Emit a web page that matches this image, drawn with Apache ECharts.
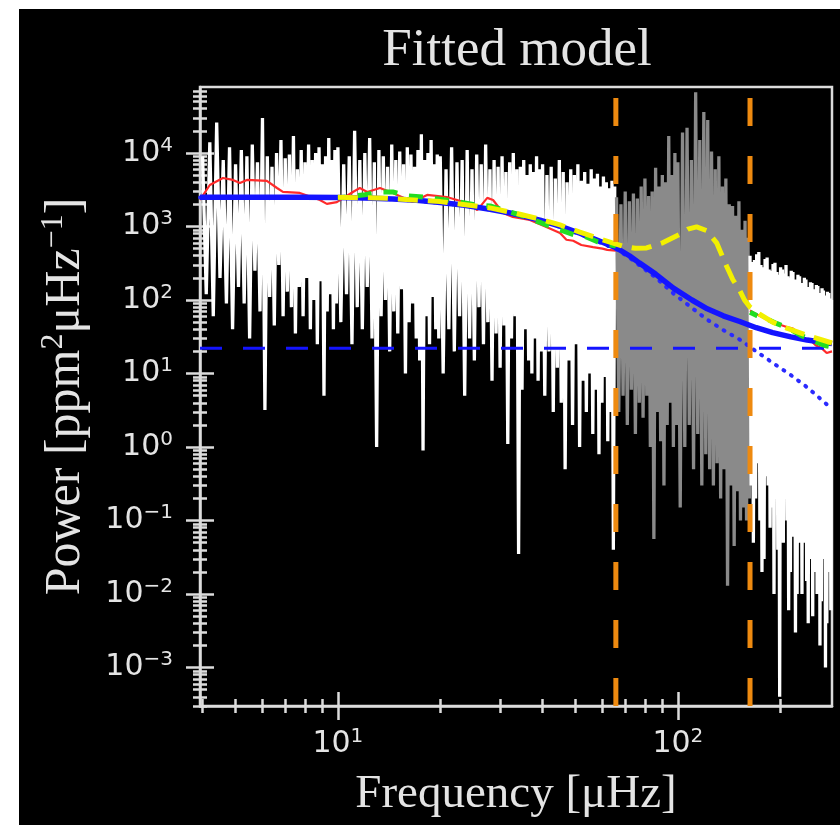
<!DOCTYPE html>
<html>
<head>
<meta charset="utf-8">
<script src="https://cdn.jsdelivr.net/npm/echarts@6/dist/echarts.min.js"></script>
<style>
  html, body { margin: 0; padding: 0; background: #ffffff; }
  #chart { position: absolute; left: 19px; top: 9px; width: 821px; height: 816px; background: #000000; }
</style>
</head>
<body>
<div id="chart"></div>
<script>
// Frequency range of the plot (µHz) and power range (ppm^2/µHz)
const freqRange = [3.93, 284];
const powerRange = [3.0e-4, 7.9e4];

// Labelled decades on each axis
const freqMajorTicks = [10, 100];
const powerMajorTicks = [1e-3, 1e-2, 1e-1, 1, 10, 100, 1e3, 1e4];
// Minor ticks: mantissas 2..9 of each decade
const minorMantissas = [2, 3, 4, 5, 6, 7, 8, 9];
const freqDecades = [0, 1, 2];
const powerDecades = [-4, -3, -2, -1, 0, 1, 2, 3, 4];

// Oscillation window edges (µHz)
const windowEdges = [65.7, 163];

// Power spectrum [frequency, power] below the oscillation window
const spectrumBelow = [
  [4.0, 9000], [4.1, 120], [4.2, 14000], [4.3, 60], [4.4, 26000], [4.5, 200],
  [4.6, 8000], [4.7, 90], [4.8, 12000], [4.9, 40], [5.0, 7000], [5.1, 150],
  [5.2, 11000], [5.3, 90], [5.4, 9000], [5.5, 30], [5.6, 13000], [5.7, 250],
  [5.8, 7500], [5.9, 70], [6.0, 30000], [6.1, 3.2], [6.2, 9000], [6.3, 110],
  [6.4, 6500], [6.5, 45], [6.6, 10000], [6.7, 300], [6.8, 15000], [6.9, 60],
  [7.0, 8500], [7.1, 130], [7.2, 9500], [7.3, 80], [7.4, 17000], [7.5, 35],
  [7.6, 6000], [7.7, 150], [7.8, 11000], [7.9, 60], [8.0, 7500], [8.1, 200],
  [8.2, 13000], [8.3, 40], [8.4, 8000], [8.5, 100], [8.6, 10000], [8.7, 25],
  [8.8, 12000], [8.9, 180], [9.0, 7000], [9.1, 5], [9.2, 9000], [9.3, 70],
  [9.4, 16000], [9.5, 120], [9.6, 8000], [9.7, 40], [9.8, 11000], [9.9, 90],
  [10.0, 12000], [10.2, 50], [10.4, 7000], [10.6, 120], [10.8, 9000], [11.0, 25],
  [11.2, 20000], [11.4, 80], [11.6, 8000], [11.8, 40], [12.0, 10000], [12.2, 150],
  [12.4, 16000], [12.6, 30], [12.8, 7500], [13.0, 1.0], [13.2, 11000], [13.4, 60],
  [13.6, 9000], [13.8, 100], [14.0, 6500], [14.2, 20], [14.4, 13000], [14.6, 70],
  [14.8, 8000], [15.0, 35], [15.2, 10500], [15.4, 140], [15.6, 7000], [15.8, 10],
  [16.0, 12000], [16.2, 50], [16.4, 9500], [16.6, 90], [16.8, 6500], [17.0, 30],
  [17.2, 11000], [17.4, 15], [17.6, 18000], [17.8, 0.9], [18.0, 8000], [18.2, 60],
  [18.4, 10000], [18.6, 25], [18.8, 15000], [19.0, 110], [19.2, 7000], [19.4, 40],
  [19.6, 9500], [19.8, 30],
  [20.0, 9000], [20.4, 10], [20.8, 6000], [21.2, 40], [21.6, 12000], [22.0, 20],
  [22.4, 7500], [22.8, 60], [23.2, 8000], [23.6, 5], [24.0, 11000], [24.4, 30],
  [24.8, 6000], [25.2, 15], [25.6, 9500], [26.0, 80], [26.4, 7000], [26.8, 25],
  [27.2, 13000], [27.6, 50], [28.0, 6000], [28.4, 8], [28.8, 8000], [29.2, 35],
  [29.6, 6500], [30.0, 12], [30.4, 9000], [30.8, 45], [31.2, 5500], [31.6, 1.1],
  [32.0, 7500], [32.4, 30], [32.8, 10000], [33.2, 60], [33.6, 6000], [34.0, 0.035],
  [34.4, 6500], [34.8, 6], [35.2, 8000], [35.6, 40], [36.0, 5000], [36.4, 15],
  [36.8, 7000], [37.2, 10], [37.6, 5500], [38.0, 30], [38.4, 9000], [38.8, 8],
  [39.2, 6000], [39.6, 20],
  [40.0, 7000], [40.6, 5], [41.2, 5000], [41.8, 20], [42.4, 6500], [43.0, 3],
  [43.6, 4500], [44.2, 12], [44.8, 8000], [45.4, 4], [46.0, 5500], [46.6, 0.5],
  [47.2, 4000], [47.8, 15], [48.4, 6000], [49.0, 2], [49.6, 5000], [50.2, 25],
  [50.8, 7000], [51.4, 1], [52.0, 4200], [52.6, 8], [53.2, 5500], [53.8, 3],
  [54.4, 3800], [55.0, 10], [55.6, 6000], [56.2, 1.5], [56.8, 4500], [57.4, 6],
  [58.0, 5200], [58.6, 0.8], [59.2, 3500], [59.8, 4], [60.4, 4800], [61.0, 9],
  [61.6, 4000], [62.2, 1.2], [62.8, 3300], [63.4, 3], [64.0, 4200], [64.6, 0.04],
  [65.2, 3500]
];

// Power spectrum inside the oscillation window
const spectrumWindow = [
  [66, 2500], [67, 3], [68, 2000], [69, 5], [70, 3000], [71, 2], [72, 2200],
  [73, 6], [74, 2800], [75, 1.5], [76, 2400], [77, 4], [78, 3500], [79, 2.5],
  [80, 4500], [81, 5], [82, 2600], [83, 1], [84, 3000], [85, 0.056], [86, 6300],
  [87, 3], [88, 3500], [89, 1.2], [90, 5000], [91, 0.3], [92, 4000], [93, 2],
  [94, 17000], [95, 4], [96, 5000], [97, 1], [98, 10000], [99, 2], [100, 7500],
  [101.6, 0.15], [103.2, 19000], [104.8, 1], [106.4, 22000], [108.0, 2],
  [109.6, 8000], [111.2, 0.5], [112.8, 67000], [114.4, 1.5], [116.0, 15000],
  [117.6, 0.3], [119.2, 36000], [120.8, 0.8], [122.4, 28000], [124.0, 0.5],
  [125.6, 10500], [127.2, 0.3], [128.8, 6000], [130.4, 0.6], [132.0, 9000],
  [133.6, 0.2], [135.2, 3500], [136.8, 0.5], [138.4, 4500], [140.0, 0.013],
  [141.6, 2000], [143.2, 0.3], [144.8, 1900], [146.4, 0.045], [148.0, 1400],
  [149.6, 0.25], [151.2, 2200], [152.8, 0.1], [154.4, 900], [156.0, 0.15],
  [157.6, 1200], [159.2, 0.1], [160.8, 700], [162.4, 0.2]
];

// Power spectrum above the oscillation window
const spectrumAbove = [
  [163.0, 400], [164.25, 0.3], [165.5, 330], [166.75, 0.05], [168.0, 350], [169.25, 0.2],
  [170.5, 420], [171.75, 0.6], [173.0, 450], [174.25, 0.1], [175.5, 300], [176.75, 0.02],
  [178.0, 280], [179.25, 0.03], [180.5, 360], [181.75, 0.4], [183.0, 380], [184.25, 0.3],
  [185.5, 260], [186.75, 0.08], [188.0, 250], [189.25, 0.15], [190.5, 310], [191.75, 0.01],
  [193.0, 320], [194.25, 0.2], [195.5, 240], [196.75, 0.04], [198.0, 220], [199.25, 0.0004],
  [200.5, 280], [201.75, 0.1], [203.0, 260], [204.25, 0.05], [205.5, 230], [206.75, 0.2],
  [208.0, 300], [209.25, 0.1], [210.5, 210], [211.75, 0.006], [213.0, 200], [214.25, 0.02],
  [215.5, 250], [216.75, 0.1], [218.0, 240], [219.25, 0.06], [220.5, 190], [221.75, 0.003],
  [223.0, 180], [224.25, 0.01], [225.5, 220], [226.75, 0.05], [228.0, 210], [229.25, 0.08],
  [230.5, 170], [231.75, 0.01], [233.0, 160], [234.25, 0.05], [235.5, 200], [236.75, 0.2],
  [238.0, 190], [239.25, 0.015], [240.5, 150], [241.75, 0.004], [243.0, 150], [244.25, 0.03],
  [245.5, 175], [246.75, 0.06], [248.0, 170], [249.25, 0.005], [250.5, 140], [251.75, 0.02],
  [253.0, 140], [254.25, 0.05], [255.5, 160], [256.75, 0.01], [258.0, 155], [259.25, 0.03],
  [260.5, 125], [261.75, 0.002], [263.0, 120], [264.25, 0.008], [265.5, 145], [266.75, 0.03],
  [268.0, 135], [269.25, 0.04], [270.5, 115], [271.75, 0.001], [273.0, 110], [274.25, 0.004],
  [275.5, 130], [276.75, 0.02], [278.0, 125], [279.25, 0.02], [280.5, 105], [281.75, 0.006],
  [283.0, 100]
];

// Smoothed spectrum (red), outside the window
const smoothBelow = [
  [3.93, 2300], [4.20, 3670], [4.59, 4570], [4.91, 4300], [5.15, 3900], [5.40, 4300],
  [6.18, 4170], [6.62, 3340], [6.89, 2950], [7.73, 2860], [8.85, 2290], [9.28, 2030],
  [9.93, 2150], [11.07, 2950], [11.6, 3340], [12.2, 2950], [13.3, 3340], [14.5, 2860],
  [16.6, 2150], [18.3, 2690], [20.9, 2520], [24.0, 2090], [25.7, 1670], [27.5, 2450],
  [28.6, 2290], [30.6, 1530], [32.7, 1350], [36.7, 1230], [41.2, 980], [45.0, 815],
  [47.0, 660], [49.2, 640], [52.0, 560], [56.3, 525], [60.0, 500], [62.0, 480], [65.7, 470]
];
const smoothAbove = [
  [163, 72], [168, 66], [175, 60], [183, 54], [195, 48], [209, 43], [218, 41],
  [225, 36], [239, 29], [248, 27], [255, 24], [265, 22], [274, 19], [284, 20]
];

// Binned spectrum (green dashed), outside the window
const binnedBelow = [
  [10, 2450], [12, 2700], [13.3, 2950], [14.5, 2950], [16, 2600], [18, 2500], [20, 2350],
  [22, 2200], [25, 2000], [28, 1900], [31, 1650], [35, 1400], [40, 1100], [45, 900],
  [50, 760], [53, 740], [58, 620], [65.7, 540]
];
const binnedAbove = [
  [163, 68], [170, 62], [180, 57], [195, 48], [210, 42], [230, 33], [250, 28],
  [270, 24], [284, 23]
];

// Background model: granulation component plus white noise (blue)
const modelFreq = [3.93, 6, 8, 10, 12, 14.5, 17, 20, 23.3, 28, 32.7, 39.3, 45, 51.5,
  58, 66, 72, 77, 86, 97, 110, 122, 136, 152, 170, 190, 215, 240, 284];
const backgroundPower = [2500, 2500, 2495, 2480, 2440, 2370, 2270, 2120, 1960, 1720, 1500,
  1220, 1010, 810, 650, 510, 400, 320, 225, 145, 100, 76, 61, 51, 42, 36, 31.5, 28.5, 25.5];
const granulationPower = [2478, 2478, 2473, 2458, 2418, 2348, 2248, 2098, 1938, 1698, 1478,
  1198, 988, 788, 628, 488, 378, 298, 203, 123, 78, 54, 39, 29, 20, 14, 9.5, 6.5, 3.3];
const whiteNoiseLevel = 22;

// Full fitted model including the oscillation hump (yellow dashed)
const fullModel = [
  [10, 2500], [14, 2420], [20, 2180], [28, 1790], [33, 1530], [39.3, 1260], [45, 1050],
  [51.5, 840], [58.9, 680], [68.8, 540], [75, 505], [80.9, 510], [90.2, 600], [101, 780],
  [107, 920], [113.5, 990], [121.5, 880], [130, 600], [139, 290], [145, 190], [152, 135],
  [157, 100], [163, 80], [174, 64], [190, 50], [210, 41], [240, 33], [284, 26]
];

const textColor = '#e4e4e4';
const frameColor = '#dcdcdc';

function decadeLabel(v) {
  const e = Math.round(Math.log10(v));
  const exp = e < 0 ? '\u2212' + (-e) : String(e);
  return '{b|10}{s|' + exp + '}';
}
const tickRich = {
  b: { fontSize: 30, fontFamily: 'DejaVu Sans', color: textColor },
  s: { fontSize: 20, fontFamily: 'DejaVu Sans', color: textColor, verticalAlign: 'top', padding: [0, 0, 15, 0] }
};

function minorTicks(decades, range) {
  const out = [];
  decades.forEach(d => minorMantissas.forEach(m => {
    const v = m * Math.pow(10, d);
    if (v >= range[0] && v <= range[1]) out.push(v);
  }));
  return out;
}
const freqMinorTicks = minorTicks(freqDecades, freqRange);
const powerMinorTicks = minorTicks(powerDecades, powerRange);

function tickAxis(kind, range, values, len, inside, withLine, label) {
  const ax = {
    type: 'log', logBase: 10, min: range[0], max: range[1],
    position: kind === 'x' ? 'bottom' : 'left', offset: 0,
    axisLine: { show: withLine, lineStyle: { color: frameColor, width: 2.5 } },
    axisTick: { show: true, customValues: values, length: len, inside: inside,
      lineStyle: { color: frameColor, width: 2.5 } },
    axisLabel: { show: false },
    splitLine: { show: false },
    minorTick: { show: false }, minorSplitLine: { show: false }
  };
  if (label) Object.assign(ax, label);
  return ax;
}

const chart = echarts.init(document.getElementById('chart'), null, { renderer: 'canvas' });

const xLabel = {
  axisLabel: { show: true, customValues: freqMajorTicks, formatter: decadeLabel, rich: tickRich, margin: 21 },
  name: 'Frequency [\u03bcHz]', nameLocation: 'middle', nameGap: 65,
  nameTextStyle: { fontFamily: 'Liberation Serif', fontSize: 47, color: textColor }
};
const yLabel = {
  axisLabel: { show: true, customValues: powerMajorTicks, formatter: decadeLabel, rich: tickRich, margin: 27 },
  name: '{t|Power [ppm}{s|2}{t|\u03bcHz}{s|\u22121}{t|]}', nameLocation: 'middle', nameGap: 106, nameRotate: 90,
  nameTextStyle: {
    rich: {
      t: { fontFamily: 'Liberation Serif', fontSize: 50, color: textColor },
      s: { fontFamily: 'Liberation Serif', fontSize: 32, color: textColor, verticalAlign: 'top', padding: [0, 0, 24, 0] }
    }
  }
};

function lineSeries(data, color, width, type, z, extra) {
  return Object.assign({
    type: 'line', data: data, xAxisIndex: 0, yAxisIndex: 0, showSymbol: false, symbol: 'none',
    silent: true, z: z, animation: false,
    lineStyle: { color: color, width: width, type: type || 'solid' }
  }, extra || {});
}

const background = modelFreq.map((f, i) => [f, backgroundPower[i]]);
const granulation = modelFreq.map((f, i) => [f, granulationPower[i]]);
const whiteNoise = [[freqRange[0], whiteNoiseLevel], [freqRange[1], whiteNoiseLevel]];
const edgeLines = windowEdges.map(f => [[f, powerRange[0]], [f, powerRange[1]]]);

chart.setOption({
  backgroundColor: '#000000',
  animation: false,
  title: {
    text: 'Fitted model', left: 493, top: 11, textAlign: 'center',
    textStyle: { fontFamily: 'Liberation Serif', fontSize: 53, fontWeight: 'normal', color: textColor }
  },
  grid: { left: 181, right: 8, top: 78, bottom: 119, show: true, borderColor: frameColor, borderWidth: 2.5, backgroundColor: 'transparent' },
  xAxis: [
    tickAxis('x', freqRange, freqMajorTicks, 14, false, true, xLabel),
    tickAxis('x', freqRange, freqMajorTicks, 14, true, false),
    tickAxis('x', freqRange, freqMinorTicks, 7, false, false),
    tickAxis('x', freqRange, freqMinorTicks, 7, true, false)
  ],
  yAxis: [
    tickAxis('y', powerRange, powerMajorTicks, 14, false, true, yLabel),
    tickAxis('y', powerRange, powerMajorTicks, 14, true, false),
    tickAxis('y', powerRange, powerMinorTicks, 7, false, false),
    tickAxis('y', powerRange, powerMinorTicks, 7, true, false)
  ],
  series: [
    lineSeries(spectrumBelow, '#ffffff', 3.3, 'solid', 1),
    lineSeries(spectrumWindow, '#8a8a8a', 3.3, 'solid', 1),
    lineSeries(spectrumAbove, '#ffffff', 3.3, 'solid', 1),
    lineSeries(smoothBelow, '#ff2a2a', 2.2, 'solid', 2),
    lineSeries(smoothAbove, '#ff2a2a', 2.2, 'solid', 2),
    lineSeries(granulation, '#2a2aff', 4, [1, 8], 3, { lineStyle: { color: '#2a2aff', width: 4, type: [1, 8], cap: 'round' } }),
    lineSeries(background, '#1414ff', 5.5, 'solid', 4),
    lineSeries(whiteNoise, '#1414ff', 3, [22, 21], 4),
    lineSeries(binnedBelow, '#22dd22', 5, [14, 12], 5, { lineStyle: { color: '#22dd22', width: 5, type: [14, 12], dashOffset: 6 } }),
    lineSeries(binnedAbove, '#22dd22', 5, [14, 12], 5, { lineStyle: { color: '#22dd22', width: 5, type: [14, 12], dashOffset: 6 } }),
    lineSeries(fullModel, '#f2f000', 5, [20, 10], 6),
    lineSeries(edgeLines[0], '#ee8a10', 5, [28, 30], 7),
    lineSeries(edgeLines[1], '#ee8a10', 5, [28, 30], 7)
  ]
});
</script>
</body>
</html>
